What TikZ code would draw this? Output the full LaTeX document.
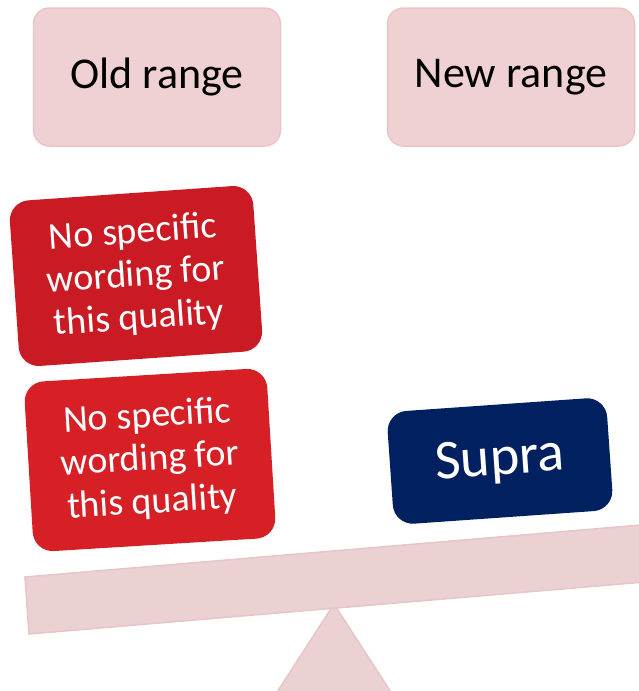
\documentclass[tikz,border=0pt]{standalone}
\usepackage{fontspec}
\setmainfont{Carlito}
\definecolor{rangefill}{HTML}{F0D1D3}
\definecolor{rangeline}{HTML}{EBC4C6}
\definecolor{oldred}{HTML}{CA1B25}
\definecolor{newred}{HTML}{D71F26}
\definecolor{supranavy}{HTML}{002060}
\definecolor{scalefill}{HTML}{EBD1D2}
\definecolor{scaleline}{HTML}{E6C6C7}
\tikzset{
  rangebox/.style={draw=rangeline, line width=1.5pt, fill=rangefill, rounded corners=16pt,
    minimum width=247pt, minimum height=138pt, font=\fontsize{44}{53}\selectfont},
  qualitybox/.style={rounded corners=20pt, text=white, align=center,
    font=\fontsize{38}{43}\selectfont},
  scalepart/.style={draw=scaleline, line width=1.5pt, fill=scalefill}
}
\begin{document}
\begin{tikzpicture}[x=1pt,y=-1pt]
  \useasboundingbox (0,0) rectangle (639,691);
  \clip (0,0) rectangle (639,691);
  % balance
  \draw[scalepart] (334,604) -- (409,720) -- (259,720) -- cycle;
  \draw[scalepart] (25,577) -- (700,520) -- (704,577) -- (29,634) -- cycle;
  % headings
  \node[rangebox] (old) at (157,77) {Old range};
  \node[rangebox] (new) at (511,77) {New range};
  % weights
  \node[qualitybox, fill=oldred, minimum width=244pt, minimum height=166pt, rotate=4]
    (oldtop) at (136,276) {No specific\\wording for\\this quality};
  \node[qualitybox, fill=newred, minimum width=243pt, minimum height=170pt, rotate=3.5]
    (oldbottom) at (150,460) {No specific\\wording for\\this quality};
  \node[qualitybox, fill=supranavy, minimum width=220pt, minimum height=113pt, rotate=4,
    font=\fontsize{56}{60}\selectfont] (supra) at (500,461) {Supra};
\end{tikzpicture}
\end{document}
